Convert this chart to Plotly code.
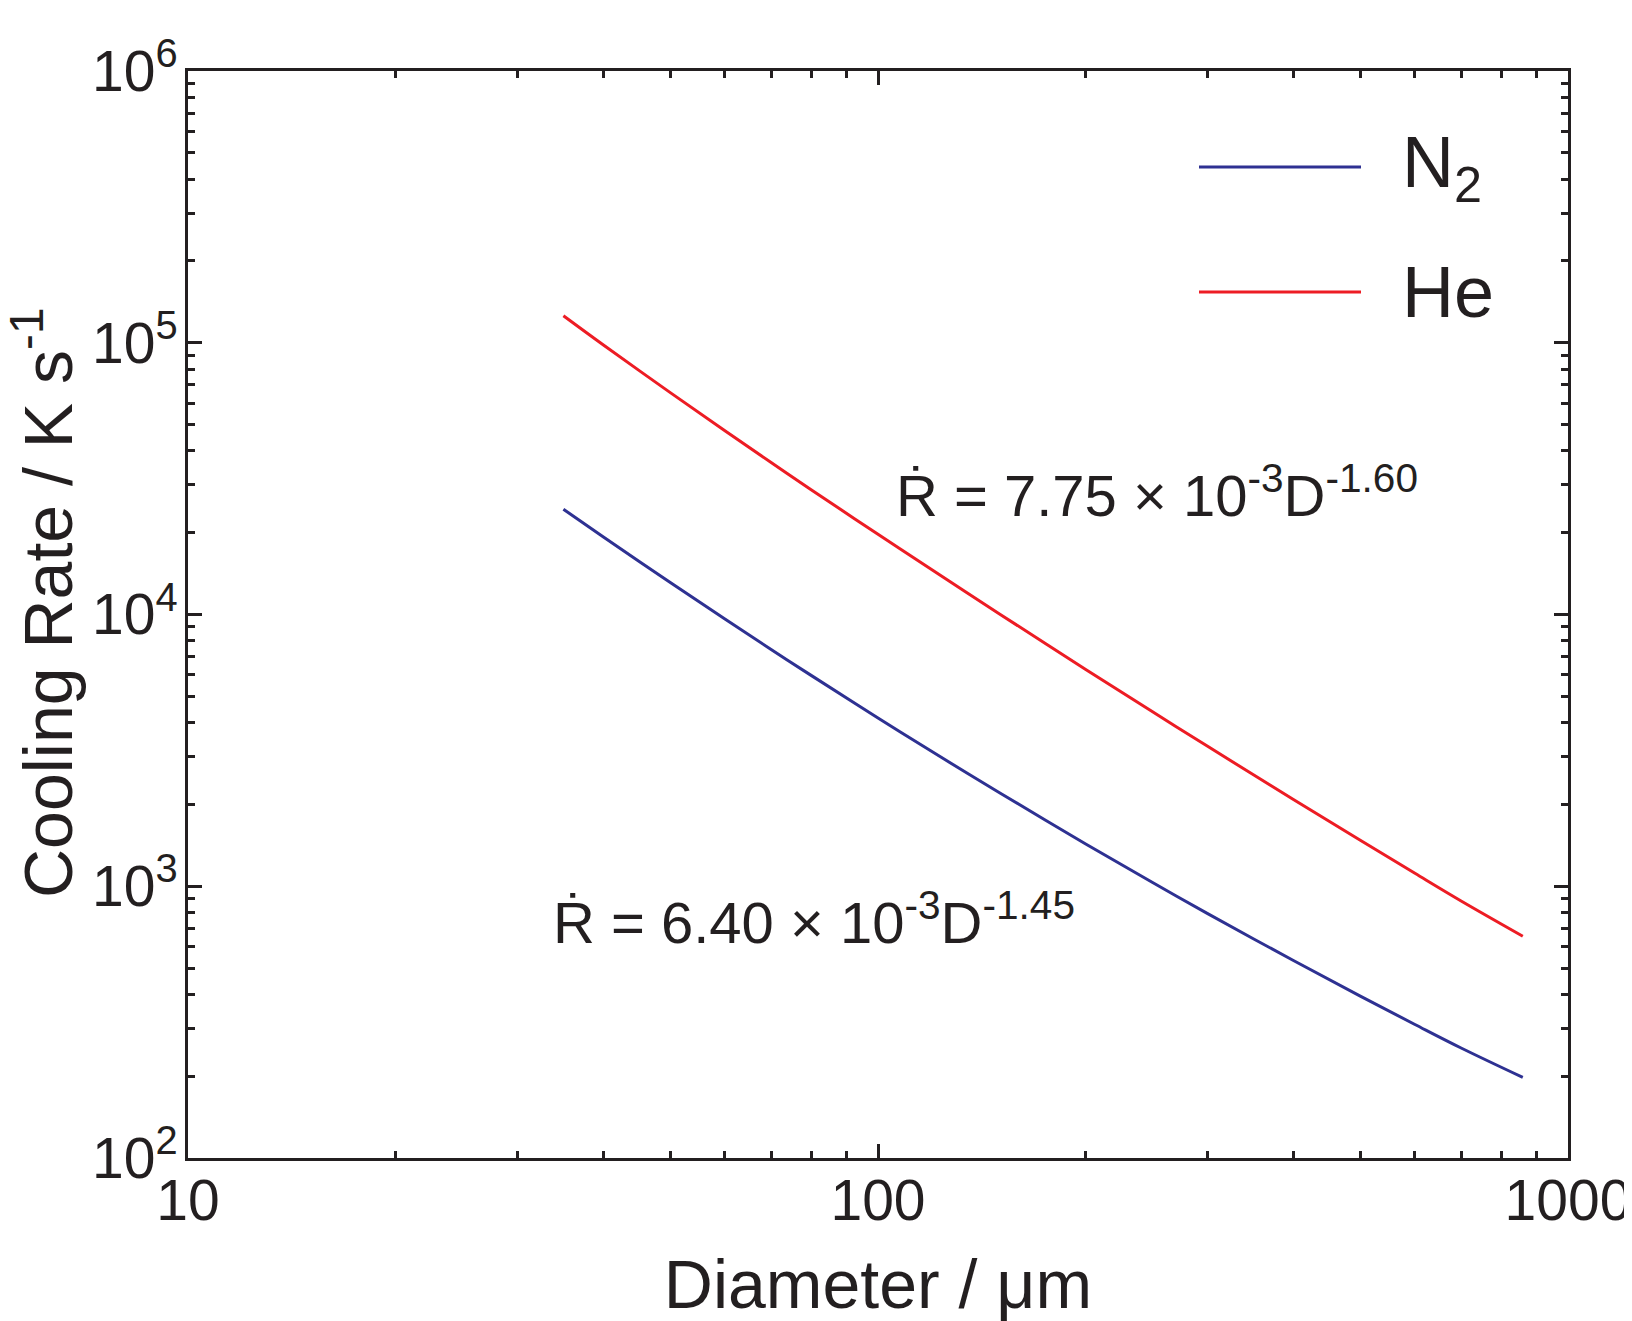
import plotly.graph_objects as go

# ---- data ----
diameter_um = [35, 40, 50, 60, 70, 80, 100, 125, 150, 200, 250, 300, 400, 500, 600, 700, 860]
rate_n2 = [24400, 19290, 13110, 9620, 7437, 5970, 4163, 2926, 2208, 1431, 1032, 795, 533, 394, 310, 254, 198]
rate_he = [125700, 98100, 65550, 47430, 36240, 28800, 19730, 13590, 10050, 6280, 4383, 3280, 2085, 1476, 1116, 883, 655]

series_names = ["N<sub>2</sub>", "He"]
series_colors = ["#2E3192", "#ED1C24"]

x_tickvals = [10, 100, 1000]
x_ticktext = ["10", "100", "1000"]
x_minor = [20, 30, 40, 50, 60, 70, 80, 90, 200, 300, 400, 500, 600, 700, 800, 900]

y_tickvals = [1e2, 1e3, 1e4, 1e5, 1e6]
y_ticktext = ["10<sup>2</sup>", "10<sup>3</sup>", "10<sup>4</sup>", "10<sup>5</sup>", "10<sup>6</sup>"]
y_minor = [m * 10 ** e for e in range(2, 6) for m in range(2, 10)]

x_title = "Diameter / μm"
y_title = "Cooling Rate / K s<sup>-1</sup>"
fit_n2 = "Ṙ = 6.40 × 10<sup>-3</sup>D<sup>-1.45</sup>"
fit_he = "Ṙ = 7.75 × 10<sup>-3</sup>D<sup>-1.60</sup>"

FONT = "Arial, Liberation Sans, Helvetica, sans-serif"
INK = "#231F20"

fig = go.Figure()
for name, ys, col in zip(series_names, [rate_n2, rate_he], series_colors):
    fig.add_trace(go.Scatter(x=diameter_um, y=ys, mode="lines", name=name,
                             line=dict(color=col, width=3, shape="spline"),
                             showlegend=False))

axis_common = dict(
    type="log", showgrid=False, zeroline=False, automargin=False,
    showline=True, linecolor=INK, linewidth=3, mirror="allticks",
    ticks="inside", ticklen=14, tickwidth=3, tickcolor=INK,
    tickfont=dict(family=FONT, size=57, color=INK),
    title_font=dict(family=FONT, size=68, color=INK),
    ticklabeloverflow="allow",
)

fig.update_xaxes(**axis_common, range=[1, 3], tickmode="array",
                 tickvals=x_tickvals, ticktext=x_ticktext,
                 minor=dict(tickmode="array", tickvals=x_minor, ticks="inside",
                            ticklen=7, tickwidth=3, tickcolor=INK, showgrid=False),
                 title_text=x_title, title_standoff=29,
                 ticklabelstandoff=-9)
fig.update_yaxes(**axis_common, range=[2, 6], tickmode="array",
                 tickvals=y_tickvals, ticktext=y_ticktext,
                 minor=dict(tickmode="array", tickvals=y_minor, ticks="inside",
                            ticklen=7, tickwidth=3, tickcolor=INK, showgrid=False),
                 ticklabelstandoff=-4)

# page-pixel positions of the plot frame in the reference
PL, PR, PT, PB = 188, 1568, 71, 1158
BODY = 8  # default page margin around the plot div

def px(xp):
    return (xp - PL) / (PR - PL)

def py(yp):
    return (PB - yp) / (PB - PT)

# y-axis title placed as a rotated annotation (axis titles are clamped inside the page)
fig.add_annotation(xref="paper", yref="paper", x=px(43), y=py(603),
                   xanchor="center", yanchor="middle", showarrow=False,
                   textangle=-90, text=y_title,
                   font=dict(family=FONT, size=68, color=INK))

# manual legend (long sample lines as in the reference)
for name, col, ly in zip(series_names, series_colors, [167, 292]):
    fig.add_shape(type="line", xref="paper", yref="paper",
                  x0=px(1199), x1=px(1361), y0=py(ly), y1=py(ly),
                  line=dict(color=col, width=3))
    fig.add_annotation(xref="paper", yref="paper", x=px(1400), y=py(ly),
                       xanchor="left", yanchor="middle", showarrow=False,
                       text=name, font=dict(family=FONT, size=72, color=INK))

fig.add_annotation(xref="paper", yref="paper", x=px(551), y=py(957),
                   xanchor="left", yanchor="bottom", showarrow=False,
                   text=fit_n2, font=dict(family=FONT, size=58, color=INK))
fig.add_annotation(xref="paper", yref="paper", x=px(894), y=py(530),
                   xanchor="left", yanchor="bottom", showarrow=False,
                   text=fit_he, font=dict(family=FONT, size=58, color=INK))

W, H = 1632, 1321
fig.update_layout(
    width=W, height=H,
    margin=dict(l=PL - BODY, r=W - (PR - BODY), t=PT - BODY, b=H - (PB - BODY)),
    paper_bgcolor="white", plot_bgcolor="white",
    font=dict(family=FONT, color=INK),
)

fig.write_html("out.html")
